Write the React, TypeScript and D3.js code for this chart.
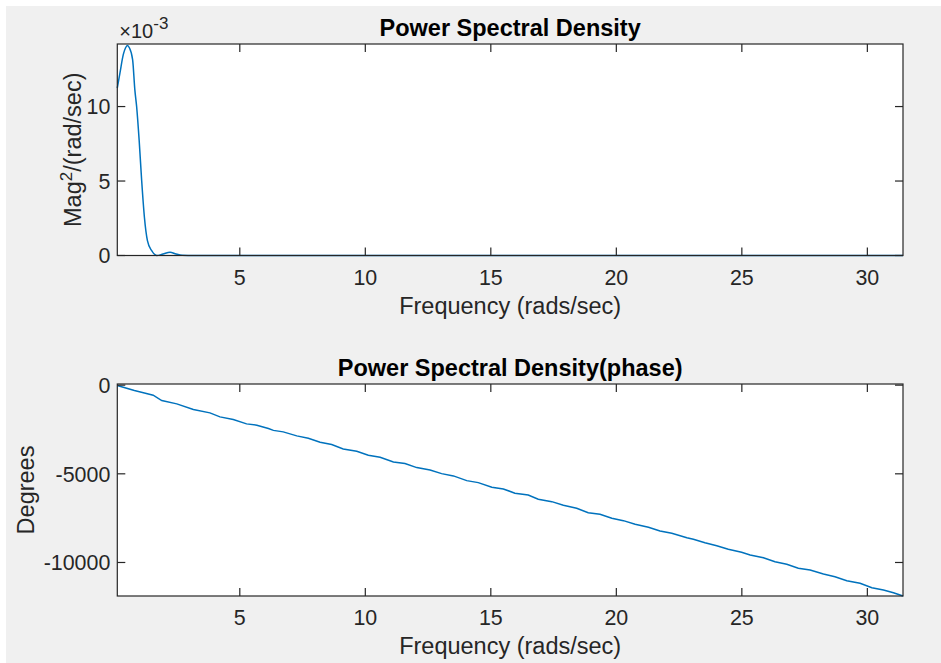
import React from 'react';
import * as d3 from 'd3';

// magnitude panel (values in units of 1e-3)
const psdFreq = [0.12, 0.23, 0.36, 0.45, 0.52, 0.6, 0.73, 0.82, 0.89, 0.99, 1.09, 1.2, 1.32, 1.49, 1.69, 1.94, 2.22, 2.46, 2.7, 3.2, 4, 6, 10, 15, 20, 25, 31.42];
const psdMag = [11.24, 12.3, 13.5, 13.95, 14.1, 13.95, 13.15, 11.1, 10.0, 7.75, 5.05, 2.57, 1.0, 0.32, 0.0, 0.1, 0.22, 0.1, 0.02, 0.005, 0.003, 0.002, 0.002, 0.002, 0.002, 0.002, 0.002];

// phase panel
const phaseFreq = [0.12, 0.8, 1.2, 1.55, 1.89, 2.49, 3.15, 3.81, 4.21, 4.74, 5.27, 5.68, 6.14, 6.34, 6.73, 7.27, 7.73, 8.2, 8.66, 9.12, 9.66, 10.12, 10.59, 11.12, 11.58, 12.05, 12.58, 13.04, 13.51, 14.04, 14.5, 15.04, 15.5, 15.96, 16.49, 16.89, 17.43, 17.89, 18.42, 18.88, 19.35, 19.82, 20.28, 20.75, 21.28, 21.74, 22.21, 22.81, 23.07, 23.53, 24.0, 24.46, 24.99, 25.33, 25.86, 26.32, 26.79, 27.25, 27.72, 28.25, 28.71, 29.18, 29.71, 30.18, 30.64, 31.04, 31.42];
const phaseDeg = [-20, -300, -440, -564, -869, -1055, -1377, -1563, -1789, -1941, -2184, -2257, -2449, -2551, -2635, -2861, -2991, -3217, -3352, -3595, -3725, -3950, -4063, -4328, -4424, -4650, -4780, -4989, -5118, -5384, -5497, -5756, -5852, -6095, -6191, -6433, -6569, -6772, -6941, -7190, -7280, -7506, -7641, -7844, -8014, -8223, -8352, -8600, -8691, -8883, -9052, -9255, -9424, -9577, -9729, -9955, -10102, -10327, -10423, -10649, -10801, -11027, -11174, -11422, -11552, -11704, -11890];

const freqDomain = [0.12, 31.42];
const freqTicks = [5, 10, 15, 20, 25, 30];
const magDomain = [0, 14.2];
const magTicks = [0, 5, 10];
const phaseDomain = [-11890, 65];
const phaseTicks = [-10000, -5000, 0];

const FONT = '"Liberation Sans", Arial, Helvetica, sans-serif';
const AX = '#262626';
const LINE = '#0072BD';
const TICK = 8;

type PanelProps = {
  top: number;
  bottom: number;
  xs: number[];
  ys: number[];
  yDomain: number[];
  yTicks: number[];
  title: string;
  yLabel: React.ReactNode;
  yLabelX: number;
  curve: d3.CurveFactory;
  exponent?: boolean;
};

const LEFT = 117.3;
const RIGHT = 903;

function Panel({ top, bottom, xs, ys, yDomain, yTicks, title, yLabel, yLabelX, curve, exponent }: PanelProps) {
  const x = d3.scaleLinear().domain(freqDomain).range([LEFT, RIGHT]);
  const y = d3.scaleLinear().domain(yDomain).range([bottom, top]);
  const line = d3.line<number>()
    .x((_, i) => x(xs[i]))
    .y(d => y(d))
    .curve(curve);
  const cx = (LEFT + RIGHT) / 2;
  const cy = (top + bottom) / 2;

  return (
    <g>
      <rect x={LEFT} y={top} width={RIGHT - LEFT} height={bottom - top} fill="#fff" />
      <path d={line(ys) || ''} fill="none" stroke={LINE} strokeWidth={1.5} />
      <rect x={LEFT} y={top} width={RIGHT - LEFT} height={bottom - top} fill="none" stroke={AX} strokeWidth={1.2} />
      {freqTicks.map(t => (
        <g key={'x' + t}>
          <line x1={x(t)} x2={x(t)} y1={bottom} y2={bottom - TICK} stroke={AX} strokeWidth={1.2} />
          <line x1={x(t)} x2={x(t)} y1={top} y2={top + TICK} stroke={AX} strokeWidth={1.2} />
          <text x={x(t)} y={bottom + 29} textAnchor="middle" fontSize={21.4} fill={AX}>{t}</text>
        </g>
      ))}
      {yTicks.map(t => (
        <g key={'y' + t}>
          <line x1={LEFT} x2={LEFT + TICK} y1={y(t)} y2={y(t)} stroke={AX} strokeWidth={1.2} />
          <line x1={RIGHT} x2={RIGHT - TICK} y1={y(t)} y2={y(t)} stroke={AX} strokeWidth={1.2} />
          <text x={LEFT - 7} y={y(t)} dy="0.36em" textAnchor="end" fontSize={21.4} fill={AX}>{t}</text>
        </g>
      ))}
      <text x={cx} y={bottom + 58} textAnchor="middle" fontSize={23.5} fill={AX}>Frequency (rads/sec)</text>
      <text transform={`translate(${yLabelX},${cy}) rotate(-90)`} textAnchor="middle" fontSize={23.5} fill={AX}>{yLabel}</text>
      <text x={cx} y={top - 8} textAnchor="middle" fontSize={23.5} fontWeight="bold" fill="#000">{title}</text>
      {exponent && (
        <text x={LEFT + 2} y={top - 6} fontSize={20} fill={AX}>
          ×10<tspan dy={-9} fontSize={17}>-3</tspan>
        </text>
      )}
    </g>
  );
}

export default function App() {
  return (
    <svg width={941} height={663} style={{ position: 'absolute', left: 0, top: 0, fontFamily: FONT }}>
      <rect x={0} y={0} width={941} height={663} fill="#fff" />
      <rect x={6} y={6} width={935} height={657} fill="#f0f0f0" />
      <Panel
        top={44}
        bottom={255.5}
        xs={psdFreq}
        ys={psdMag}
        yDomain={magDomain}
        yTicks={magTicks}
        title="Power Spectral Density"
        yLabel={<>Mag<tspan dy={-9} fontSize={17}>2</tspan><tspan dy={9}>/(rad/sec)</tspan></>}
        yLabelX={81}
        curve={d3.curveMonotoneX}
        exponent
      />
      <Panel
        top={384}
        bottom={596}
        xs={phaseFreq}
        ys={phaseDeg}
        yDomain={phaseDomain}
        yTicks={phaseTicks}
        title="Power Spectral Density(phase)"
        yLabel="Degrees"
        yLabelX={34}
        curve={d3.curveLinear}
      />
    </svg>
  );
}
